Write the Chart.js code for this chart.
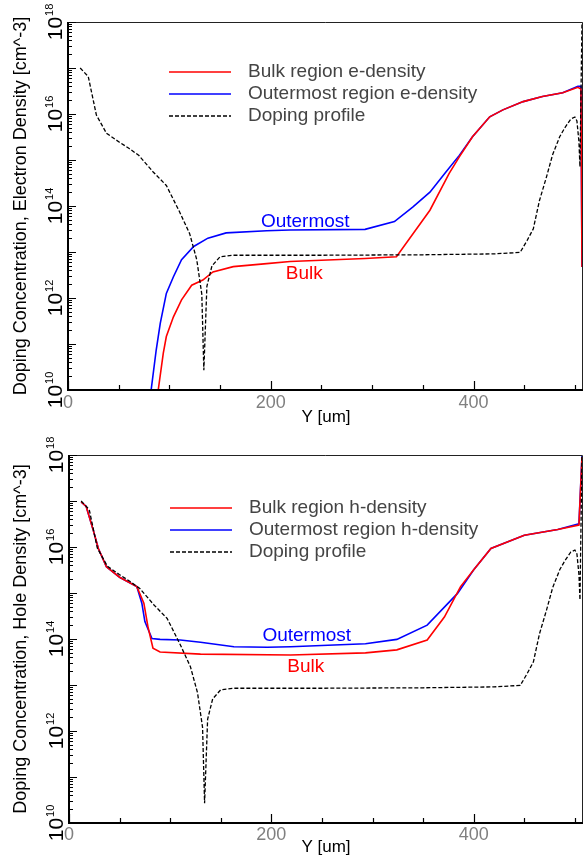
<!DOCTYPE html>
<html>
<head>
<meta charset="utf-8">
<script src="https://cdn.jsdelivr.net/npm/chart.js@4.4.1/dist/chart.umd.min.js"></script>
<style>
  html, body { margin: 0; padding: 0; background: #fff; }
  #wrap { position: relative; width: 584px; height: 860px; }
  canvas { position: absolute; left: 0; }
</style>
</head>
<body>
<div id="wrap">
  <canvas id="eChart" width="584" height="430" style="top:0"></canvas>
  <canvas id="hChart" width="584" height="430" style="top:430px"></canvas>
</div>
<script>
// positions are Y [um], values are cm^-3
var dopingY = [12, 20, 28, 38, 50, 60, 70, 84, 97, 110, 120, 127, 132, 134, 137, 142, 150, 163, 250, 350, 420, 446, 453, 459, 465, 472, 478, 485, 490, 496, 500, 502, 504, 505, 507];
var dopingVal = [1.0e17, 6.5e16, 9.5e15, 3.8e15, 2.5e15, 1.8e15, 1.25e15, 5.5e14, 2.8e14, 7.5e13, 2.5e13, 6.8e12, 1.2e12, 2.7e10, 1.8e12, 5.0e12, 7.9e12, 8.5e12, 8.5e12, 8.7e12, 9.1e12, 9.8e12, 1.8e13, 3.2e13, 1.3e14, 4.3e14, 1.3e15, 3.2e15, 5.0e15, 7.8e15, 8.6e15, 7.1e15, 2.5e15, 7.1e14, 1.0e18];

var eBulkY = [89, 94, 97, 104, 112, 122, 133, 143, 163, 196, 219, 293, 324, 357, 376, 386, 399, 416, 429, 449, 468, 488, 503, 506, 507];
var eBulkVal = [1.0e10, 6.3e10, 1.45e11, 3.9e11, 9.1e11, 1.9e12, 2.45e12, 3.7e12, 4.8e12, 5.6e12, 6.2e12, 7.2e12, 7.9e12, 8.1e13, 5.1e14, 1.17e15, 3.2e15, 8.7e15, 1.23e16, 1.86e16, 2.4e16, 2.9e16, 3.8e16, 3.5e16, 4.7e12];

var eOuterY = [82, 87, 91, 97, 104, 112, 124, 138, 156, 196, 219, 293, 322, 340, 357, 372, 386, 399, 416, 429, 449, 468, 488, 503, 506, 507];
var eOuterVal = [1.0e10, 7.4e10, 2.8e11, 1.26e12, 2.9e12, 6.8e12, 1.32e13, 2.0e13, 2.6e13, 2.9e13, 3.0e13, 3.1e13, 4.6e13, 9.5e13, 2.0e14, 5.2e14, 1.26e15, 3.2e15, 8.7e15, 1.23e16, 1.86e16, 2.4e16, 2.9e16, 4.0e16, 4.0e16, 4.7e12];

var hBulkY = [12, 17, 24, 29, 37, 50, 67, 74, 78, 83, 90, 130, 219, 293, 324, 354, 371, 387, 400, 417, 450, 483, 504, 507];
var hBulkVal = [9.5e16, 7.6e16, 2.3e16, 9.3e15, 3.7e15, 2.2e15, 1.38e15, 6.0e14, 1.86e14, 6.3e13, 5.2e13, 4.7e13, 4.5e13, 5.0e13, 5.8e13, 9.5e13, 3.0e14, 1.38e15, 3.2e15, 9.3e15, 1.8e16, 2.4e16, 3.0e16, 9.0e17];

var hOuterY = [12, 17, 24, 29, 37, 50, 67, 72, 75, 82, 90, 110, 130, 163, 196, 219, 293, 324, 354, 384, 400, 417, 450, 483, 504, 507];
var hOuterVal = [9.5e16, 7.6e16, 2.3e16, 9.3e15, 3.7e15, 2.2e15, 1.38e15, 6.0e14, 2.4e14, 1.02e14, 9.8e13, 9.5e13, 8.5e13, 6.8e13, 6.6e13, 6.8e13, 7.9e13, 9.8e13, 2.0e14, 9.8e14, 3.2e15, 9.3e15, 1.8e16, 2.4e16, 3.2e16, 9.5e17];

var xMajorTicks = [0, 200, 400];
var xMinorTicks = [50, 100, 150, 250, 300, 350, 450, 500];
var yLabelExps = [10, 12, 14, 16, 18];

var BASE_FONT = '"Liberation Sans", Arial, sans-serif';

function toPoints(xs, vals) {
  return xs.map(function(x, i) { return { x: x, y: vals[i] }; });
}

var framePlugin = {
  id: 'frame',
  afterDraw: function(chart, args, opts) {
    var ctx = chart.ctx;
    var a = chart.chartArea;
    var xs = chart.scales.x, ys = chart.scales.y;
    ctx.save();

    // box
    ctx.strokeStyle = '#222';
    ctx.lineWidth = 1;
    ctx.beginPath();
    ctx.moveTo(a.left, a.top + 0.5);
    ctx.lineTo(a.right - 0.5, a.top + 0.5);
    ctx.lineTo(a.right - 0.5, a.bottom);
    ctx.stroke();
    ctx.strokeStyle = '#000';
    ctx.lineWidth = 2;
    ctx.beginPath();
    ctx.moveTo(a.left, a.top);
    ctx.lineTo(a.left, a.bottom);
    ctx.lineTo(a.right, a.bottom);
    ctx.stroke();

    // x ticks
    ctx.lineWidth = 1.2;
    ctx.beginPath();
    xMajorTicks.forEach(function(v) {
      var px = Math.round(xs.getPixelForValue(v)) + 0.5;
      ctx.moveTo(px, a.bottom); ctx.lineTo(px, a.bottom - 9);
    });
    xMinorTicks.forEach(function(v) {
      var px = Math.round(xs.getPixelForValue(v)) + 0.5;
      ctx.moveTo(px, a.bottom); ctx.lineTo(px, a.bottom - 5);
    });
    // y ticks
    for (var e = 10; e <= 18; e++) {
      var py = Math.round(ys.getPixelForValue(Math.pow(10, e))) + 0.5;
      ctx.moveTo(a.left, py); ctx.lineTo(a.left + 8, py);
      if (e < 18) {
        for (var m = 2; m <= 9; m++) {
          var pm = Math.round(ys.getPixelForValue(m * Math.pow(10, e))) + 0.5;
          ctx.moveTo(a.left, pm); ctx.lineTo(a.left + 4, pm);
        }
      }
    }
    ctx.stroke();

    // x tick labels
    ctx.fillStyle = '#808080';
    ctx.font = '18px ' + BASE_FONT;
    ctx.textAlign = 'center';
    ctx.textBaseline = 'middle';
    xMajorTicks.forEach(function(v) {
      ctx.fillText(String(v), xs.getPixelForValue(v), a.bottom + opts.xLabelGap);
    });

    // x title
    ctx.fillStyle = '#000';
    ctx.font = '17px ' + BASE_FONT;
    ctx.fillText('Y [um]', 326, a.bottom + opts.xTitleGap);

    // y tick labels, rotated, 10 with superscript exponent
    ctx.fillStyle = '#000';
    yLabelExps.forEach(function(ex) {
      var py = ys.getPixelForValue(Math.pow(10, ex));
      ctx.save();
      ctx.translate(a.left - 6, py);
      ctx.rotate(-Math.PI / 2);
      ctx.textAlign = 'left';
      ctx.textBaseline = 'alphabetic';
      ctx.font = '21px ' + BASE_FONT;
      var w10 = ctx.measureText('10').width;
      ctx.font = '11px ' + BASE_FONT;
      var wSup = ctx.measureText(String(ex)).width;
      var u0 = -(w10 + 1 + wSup) / 2;
      ctx.font = '21px ' + BASE_FONT;
      ctx.fillText('10', u0, 0);
      ctx.font = '11px ' + BASE_FONT;
      ctx.fillText(String(ex), u0 + w10 + 1, -9);
      ctx.restore();
    });

    // y title
    ctx.save();
    ctx.translate(26, (a.top + a.bottom) / 2);
    ctx.rotate(-Math.PI / 2);
    ctx.textAlign = 'center';
    ctx.textBaseline = 'alphabetic';
    ctx.font = '18px ' + BASE_FONT;
    ctx.fillText(opts.yTitle, 0, 0);
    ctx.restore();

    // legend
    ctx.font = '19px ' + BASE_FONT;
    ctx.textAlign = 'left';
    ctx.textBaseline = 'middle';
    opts.legend.forEach(function(item, i) {
      var ly = a.top + opts.legendTop + i * 22;
      ctx.strokeStyle = item.color;
      ctx.lineWidth = item.dash ? 1.3 : 1.6;
      ctx.setLineDash(item.dash || []);
      ctx.beginPath();
      ctx.moveTo(a.left + 101, ly);
      ctx.lineTo(a.left + 163, ly);
      ctx.stroke();
      ctx.setLineDash([]);
      ctx.fillStyle = '#444';
      ctx.fillText(item.text, a.left + 180, ly);
    });

    // curve notes
    ctx.textAlign = 'center';
    opts.notes.forEach(function(n) {
      ctx.fillStyle = n.color;
      ctx.fillText(n.text, xs.getPixelForValue(n.x), ys.getPixelForValue(n.y));
    });

    ctx.restore();
  }
};

function makeChart(id, bulkY, bulkVal, outerY, outerVal, frameOpts, pad) {
  return new Chart(document.getElementById(id), {
    type: 'line',
    data: {
      datasets: [
        {
          label: 'Doping profile',
          data: toPoints(dopingY, dopingVal),
          borderColor: '#000',
          borderWidth: 1.3,
          borderDash: [4, 2]
        },
        {
          label: 'Bulk',
          data: toPoints(bulkY, bulkVal),
          borderColor: '#ff0000',
          borderWidth: 1.6
        },
        {
          label: 'Outermost',
          data: toPoints(outerY, outerVal),
          borderColor: '#0000ff',
          borderWidth: 1.6
        }
      ]
    },
    options: {
      responsive: false,
      animation: false,
      devicePixelRatio: 1,
      layout: { padding: pad },
      elements: { point: { radius: 0 }, line: { tension: 0 } },
      scales: {
        x: { type: 'linear', min: 0, max: 508, display: false },
        y: { type: 'logarithmic', min: 1e10, max: 1e18, display: false }
      },
      plugins: {
        legend: { display: false },
        tooltip: { enabled: false },
        frame: frameOpts
      }
    },
    plugins: [framePlugin]
  });
}

makeChart('eChart', eBulkY, eBulkVal, eOuterY, eOuterVal, {
  yTitle: 'Doping Concentration, Electron Density [cm^-3]',
  xLabelGap: 13,
  xTitleGap: 27,
  legendTop: 50,
  legend: [
    { text: 'Bulk region e-density', color: '#ff0000' },
    { text: 'Outermost region e-density', color: '#0000ff' },
    { text: 'Doping profile', color: '#000', dash: [4, 2] }
  ],
  notes: [
    { text: 'Outermost', x: 234, y: 4.5e13, color: '#0000ff' },
    { text: 'Bulk', x: 233, y: 3.3e12, color: '#ff0000' }
  ]
}, { left: 68, top: 22, right: 1, bottom: 40 });

makeChart('hChart', hBulkY, hBulkVal, hOuterY, hOuterVal, {
  yTitle: 'Doping Concentration, Hole Density [cm^-3]',
  xLabelGap: 12,
  xTitleGap: 24,
  legendTop: 53,
  legend: [
    { text: 'Bulk region h-density', color: '#ff0000' },
    { text: 'Outermost region h-density', color: '#0000ff' },
    { text: 'Doping profile', color: '#000', dash: [4, 2] }
  ],
  notes: [
    { text: 'Outermost', x: 235, y: 1.2e14, color: '#0000ff' },
    { text: 'Bulk', x: 234, y: 2.5e13, color: '#ff0000' }
  ]
}, { left: 69, top: 25, right: 1, bottom: 37 });
</script>
</body>
</html>
